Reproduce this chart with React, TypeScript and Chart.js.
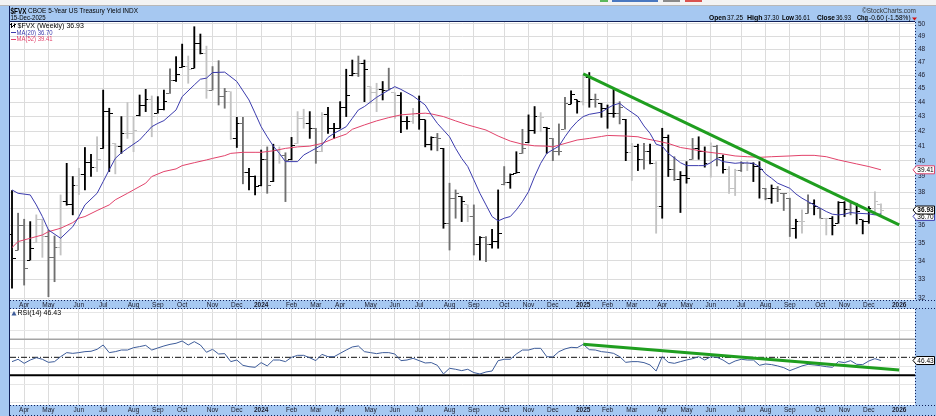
import React, { useEffect, useRef } from "react";
import { Chart, registerables } from "chart.js";
Chart.register(...registerables);

const FONT = '"Liberation Sans", Arial, sans-serif';

// ---- x axis (weekly bars, index 0 = week of 20-Mar-2023, last = week of 15-Dec-2025)
const monthWeeks = [2, 6, 11, 15, 20, 24, 28, 33, 37, 41, 46, 50, 54, 59, 63, 67, 72, 76, 81, 85, 89, 94, 98, 102, 107, 111, 115, 120, 124, 128, 133, 137, 141, 146];
const monthLabels = ["Apr", "May", "Jun", "Jul", "Aug", "Sep", "Oct", "Nov", "Dec", "2024", "Feb", "Mar", "Apr", "May", "Jun", "Jul", "Aug", "Sep", "Oct", "Nov", "Dec", "2025", "Feb", "Mar", "Apr", "May", "Jun", "Jul", "Aug", "Sep", "Oct", "Nov", "Dec", "2026"];
const priceTicks = [32, 33, 34, 35, 36, 37, 38, 39, 40, 41, 42, 43, 44, 45, 46, 47, 48, 49, 50];
const rsiTicks = [0, 10, 20, 30, 40, 50, 60, 70, 80, 90, 100];
const rsiLabeled = [10, 30, 50, 70, 90];

// ---- weekly OHLC
const highs = [38.12, 36.74, 36.38, 36.24, 36.64, 36.38, 35.75, 35.40, 37.85, 39.85, 39.00, 39.53, 40.89, 40.43, 41.61, 44.90, 43.59, 41.16, 43.00, 44.00, 43.00, 44.54, 44.95, 44.47, 44.42, 44.90, 46.48, 47.41, 48.39, 47.46, 49.78, 49.19, 48.23, 46.65, 47.10, 45.02, 44.78, 42.95, 42.95, 39.53, 39.04, 40.72, 40.93, 41.11, 40.93, 40.54, 41.57, 43.35, 43.52, 43.35, 42.19, 43.28, 43.66, 42.53, 44.06, 46.45, 47.15, 47.46, 47.15, 45.15, 45.40, 45.53, 46.53, 44.71, 44.71, 43.00, 43.59, 44.47, 42.77, 41.61, 41.84, 40.83, 38.58, 38.16, 37.75, 37.24, 37.24, 35.37, 35.37, 35.79, 38.16, 39.64, 39.17, 40.61, 42.12, 43.12, 43.71, 43.28, 42.26, 41.50, 42.49, 44.37, 44.85, 44.18, 46.03, 46.20, 44.61, 43.94, 43.82, 45.02, 44.06, 42.81, 41.16, 41.11, 41.16, 41.11, 39.96, 42.19, 41.73, 40.28, 39.32, 39.96, 41.50, 41.61, 40.93, 41.20, 41.04, 40.39, 39.64, 39.47, 39.96, 39.96, 39.89, 39.96, 38.26, 38.47, 38.37, 37.95, 37.65, 36.38, 36.94, 37.85, 37.55, 37.04, 36.44, 36.54, 37.44, 37.44, 37.38, 37.34, 36.34, 37.14, 38.05, 37.30];
const lows = [32.51, 34.60, 32.68, 34.04, 35.02, 34.19, 32.07, 32.86, 34.32, 37.22, 36.64, 37.87, 38.16, 39.00, 39.32, 40.83, 39.32, 39.17, 40.50, 41.50, 40.61, 43.05, 43.35, 41.61, 43.24, 43.47, 44.66, 45.53, 46.60, 45.40, 46.53, 47.62, 44.30, 44.90, 43.82, 43.59, 41.43, 40.89, 38.54, 38.16, 37.85, 38.41, 37.95, 38.68, 39.85, 37.44, 40.07, 41.16, 42.19, 41.50, 39.85, 40.61, 41.84, 41.50, 42.19, 43.00, 45.95, 45.90, 44.06, 43.94, 43.35, 44.18, 44.90, 42.88, 41.89, 42.12, 42.53, 42.12, 40.93, 40.72, 40.67, 35.85, 34.60, 36.44, 36.24, 36.24, 34.32, 34.04, 33.95, 34.70, 34.70, 38.47, 38.26, 39.21, 40.50, 41.20, 41.84, 41.95, 40.50, 40.02, 40.39, 42.12, 43.89, 43.24, 43.82, 43.66, 43.66, 42.95, 42.19, 42.95, 42.49, 40.02, 38.75, 39.38, 39.47, 39.81, 35.56, 36.44, 39.00, 38.75, 36.78, 38.58, 40.11, 40.11, 39.60, 38.96, 39.68, 39.21, 37.95, 37.81, 39.32, 39.38, 38.68, 37.65, 37.55, 37.34, 37.44, 36.90, 35.37, 35.27, 35.56, 36.74, 36.64, 36.44, 35.46, 35.46, 36.14, 36.54, 36.64, 36.10, 35.52, 36.14, 36.78, 36.61];
const opens = [35.50, 34.60, 36.00, 34.04, 35.02, 36.34, 35.37, 34.19, 34.74, 37.44, 37.28, 38.43, 39.11, 39.89, 39.60, 40.83, 43.35, 41.16, 40.93, 41.84, 41.84, 43.05, 43.75, 44.18, 43.24, 43.47, 44.66, 45.60, 46.60, 46.65, 46.53, 48.45, 47.62, 44.90, 46.20, 44.42, 44.78, 41.50, 42.49, 39.26, 39.00, 38.41, 40.07, 38.68, 40.72, 40.39, 40.07, 41.16, 42.84, 42.53, 42.19, 40.61, 43.12, 42.19, 42.19, 43.66, 45.95, 46.15, 46.90, 45.15, 44.71, 44.95, 44.90, 44.71, 44.47, 42.65, 42.65, 43.24, 42.77, 41.11, 41.57, 40.83, 36.14, 37.60, 37.75, 37.24, 36.54, 34.89, 35.33, 34.89, 35.08, 38.47, 38.62, 39.21, 40.50, 41.20, 42.07, 43.00, 42.26, 41.50, 40.61, 42.12, 43.89, 44.18, 44.06, 45.85, 44.18, 43.94, 43.59, 43.19, 43.19, 42.81, 40.54, 40.93, 40.07, 40.61, 39.81, 37.14, 41.57, 39.43, 38.83, 39.04, 40.11, 40.83, 40.61, 39.85, 40.98, 40.24, 39.47, 38.26, 39.38, 39.85, 39.81, 39.64, 38.26, 37.65, 38.26, 37.95, 37.65, 35.85, 36.24, 36.74, 37.34, 37.04, 36.44, 36.44, 36.14, 37.38, 36.94, 37.34, 36.34, 36.24, 37.04, 37.25];
const closes = [34.13, 36.00, 33.58, 34.70, 36.34, 35.37, 34.19, 34.74, 37.44, 37.28, 38.43, 39.11, 39.89, 39.60, 40.07, 43.35, 43.24, 40.93, 41.84, 41.84, 42.07, 43.75, 44.18, 43.00, 43.47, 44.06, 45.60, 46.03, 46.65, 46.40, 48.45, 47.62, 44.90, 46.20, 44.42, 44.78, 41.50, 42.49, 39.26, 39.00, 38.37, 40.07, 38.41, 40.72, 40.39, 40.00, 41.05, 42.84, 42.53, 42.19, 40.61, 43.12, 42.19, 42.19, 43.66, 44.47, 46.15, 46.90, 46.45, 44.71, 44.95, 44.90, 45.02, 44.47, 42.65, 42.65, 43.24, 42.77, 41.11, 41.57, 41.50, 36.14, 37.60, 37.95, 37.44, 36.54, 34.89, 35.33, 34.89, 35.08, 35.56, 38.62, 39.11, 39.26, 40.83, 42.07, 43.00, 42.95, 42.19, 40.61, 40.61, 43.94, 44.54, 44.06, 45.85, 44.18, 44.18, 43.59, 43.19, 43.19, 43.66, 40.54, 40.93, 40.07, 40.61, 39.81, 37.14, 41.57, 39.43, 38.83, 39.04, 38.89, 40.83, 40.61, 39.85, 40.98, 40.24, 39.47, 38.26, 39.38, 39.85, 39.81, 39.64, 39.43, 37.65, 38.26, 38.20, 37.95, 35.85, 36.24, 36.24, 37.34, 37.14, 36.44, 36.44, 36.04, 37.38, 36.94, 37.34, 36.84, 36.24, 37.04, 37.44, 36.93];
const barShade = ("kggkllgglk" + "klkklkklkl" + "lkklkkgkkl" + "kklggglkgk" + "kkgklgkllk" + "glkkkkkgkl" + "lkglkklkkk" + "gkggklgkgk" + "kgkkgkklkg" + "ggkklkgkkk" + "gklkgklkkg" + "kkgkklgkll" + "glkkgkgggk" + "lgkglkkkgk" + "kkll").split("");

// ---- moving averages (week index, value)
const ma20Weeks = [0, 1, 3, 4, 5, 6, 8, 10, 11, 12, 14, 15, 16, 17, 18, 19, 21, 22, 23, 24, 25, 27, 28, 30, 31, 32, 33, 35, 37, 39, 40, 41, 42, 43, 44, 45, 47, 48, 49, 51, 52, 53, 55, 56, 57, 58, 60, 62, 63, 64, 66, 68, 69, 70, 72, 73, 74, 75, 76, 77, 78, 79, 80, 81, 82, 83, 84, 85, 86, 87, 88, 90, 91, 92, 93, 94, 95, 97, 98, 99, 100, 101, 103, 104, 105, 106, 107, 108, 110, 111, 113, 114, 115, 116, 117, 119, 120, 122, 123, 124, 125, 126, 128, 129, 130, 131, 132, 133, 134, 135, 136, 137, 138, 139, 141, 142, 143];
const ma20Vals = [38.16, 37.95, 37.85, 37.24, 36.54, 35.75, 35.27, 35.94, 36.54, 37.24, 37.95, 38.68, 39.43, 40.17, 40.54, 40.83, 41.39, 41.84, 42.30, 42.53, 42.72, 43.47, 44.42, 45.28, 45.70, 45.78, 46.20, 46.23, 45.53, 44.18, 43.24, 42.30, 41.61, 40.98, 40.50, 39.96, 39.96, 40.39, 40.61, 41.05, 41.57, 41.84, 42.30, 42.88, 43.47, 43.71, 44.37, 44.90, 45.15, 44.95, 44.47, 43.82, 43.12, 42.53, 41.61, 40.83, 40.17, 39.64, 38.79, 37.95, 37.24, 36.54, 36.28, 36.44, 36.54, 36.94, 37.44, 38.05, 39.00, 39.85, 40.50, 40.98, 41.61, 42.19, 42.65, 43.00, 43.16, 43.31, 43.59, 43.82, 43.94, 43.59, 43.00, 42.35, 41.84, 41.11, 40.98, 40.50, 39.89, 39.70, 39.70, 39.70, 39.89, 40.17, 39.96, 39.85, 39.89, 39.85, 39.64, 39.17, 38.89, 38.58, 38.26, 37.91, 37.65, 37.44, 37.24, 37.04, 36.84, 36.68, 36.64, 36.68, 36.78, 36.74, 36.70, 36.64, 36.70];
const ma52Weeks = [0, 1, 3, 5, 6, 8, 10, 11, 12, 14, 16, 17, 19, 20, 22, 23, 25, 27, 28, 30, 32, 33, 35, 36, 38, 40, 41, 43, 45, 47, 49, 51, 53, 55, 56, 58, 60, 62, 64, 66, 68, 69, 71, 73, 75, 78, 80, 82, 84, 86, 88, 89, 91, 93, 95, 97, 98, 101, 103, 104, 106, 108, 110, 112, 114, 117, 119, 121, 123, 125, 128, 130, 132, 134, 136, 139, 141, 143];
const ma52Vals = [34.74, 35.08, 35.27, 35.46, 35.65, 35.85, 36.18, 36.44, 36.54, 36.90, 37.24, 37.55, 37.95, 38.16, 38.58, 39.00, 39.32, 39.49, 39.70, 39.89, 40.07, 40.17, 40.35, 40.50, 40.57, 40.57, 40.57, 40.67, 40.83, 40.93, 40.98, 41.16, 41.50, 41.79, 42.12, 42.42, 42.70, 42.93, 43.12, 43.19, 43.24, 43.19, 43.00, 42.70, 42.42, 42.07, 41.66, 41.32, 41.11, 41.00, 40.98, 40.93, 41.16, 41.39, 41.50, 41.63, 41.70, 41.66, 41.61, 41.50, 41.34, 41.16, 40.89, 40.76, 40.61, 40.46, 40.33, 40.28, 40.24, 40.28, 40.33, 40.37, 40.37, 40.28, 40.07, 39.81, 39.64, 39.43];

// ---- trendlines (drawn by the analyst)
const priceTrendWeeks = [94, 146];
const priceTrendVals = [46.1, 36.05];
const rsiTrendWeeks = [94, 146];
const rsiTrendVals = [64.4, 35.9];

// ---- RSI(14)
const rsiVals = [45.2, 47.8, 43.3, 47.0, 49.6, 47.8, 44.4, 45.2, 50.7, 55.2, 54.4, 55.2, 56.3, 56.7, 58.9, 63.7, 55.2, 56.3, 58.1, 58.1, 60.7, 61.9, 63.3, 58.1, 60.4, 62.6, 64.4, 65.6, 68.1, 63.7, 67.4, 63.7, 55.6, 58.9, 53.7, 54.1, 45.2, 47.0, 41.1, 39.6, 38.9, 44.1, 40.4, 47.0, 47.0, 45.2, 50.0, 52.2, 52.2, 49.5, 46.3, 53.3, 50.7, 50.7, 54.4, 58.1, 61.5, 62.6, 56.3, 55.2, 54.1, 55.2, 55.2, 53.7, 46.3, 47.0, 48.9, 46.3, 43.7, 44.1, 41.1, 31.5, 37.8, 36.7, 35.2, 36.7, 33.0, 31.5, 33.7, 34.8, 46.3, 47.8, 47.8, 53.7, 58.1, 58.1, 60.0, 60.0, 50.7, 50.4, 56.3, 59.3, 61.1, 60.7, 64.4, 58.5, 58.1, 56.3, 55.6, 54.4, 50.7, 44.4, 45.2, 45.2, 44.1, 41.5, 34.8, 50.7, 44.4, 43.3, 45.2, 47.0, 48.5, 50.7, 47.0, 50.7, 50.0, 47.0, 42.6, 45.9, 47.8, 47.0, 47.0, 41.1, 42.6, 41.9, 40.4, 38.5, 35.2, 37.8, 40.4, 42.2, 41.5, 40.7, 39.6, 38.9, 45.2, 44.1, 46.3, 42.2, 41.9, 45.9, 48.5, 46.43];
const rsiLevels = [70, 50, 30];

const XMIN = -0.33;
const XMAX = 148.6;
const BLUE_BG = "#a6c8f1";
const NAVY = "#10205a";
const MA20_COLOR = "#3c3cae";
const MA52_COLOR = "#e2436b";
const TREND_COLOR = "#1f9e1f";
const RSI_COLOR = "#3d5c9a";
const GRID = "#dcdcdc";
const shadeColor: Record<string, string> = { k: "#000000", g: "#707070", l: "#c3c3c3" };

function txt(ctx: CanvasRenderingContext2D, s: string, x: number, y: number, size: number, color: string, opts: { bold?: boolean; align?: CanvasTextAlign; maxW?: number } = {}) {
  ctx.font = `${opts.bold ? "bold " : ""}${size}px ${FONT}`;
  ctx.fillStyle = color;
  ctx.textAlign = opts.align || "left";
  ctx.textBaseline = "middle";
  if (opts.maxW) ctx.fillText(s, x, y, opts.maxW);
  else ctx.fillText(s, x, y);
}

function hline(ctx: CanvasRenderingContext2D, x1: number, x2: number, y: number) {
  ctx.beginPath(); ctx.moveTo(x1, y); ctx.lineTo(x2, y); ctx.stroke();
}
function vline(ctx: CanvasRenderingContext2D, x: number, y1: number, y2: number) {
  ctx.beginPath(); ctx.moveTo(x, y1); ctx.lineTo(x, y2); ctx.stroke();
}

function valueBox(ctx: CanvasRenderingContext2D, y: number, color: string, label: string, bold = false) {
  ctx.fillStyle = "#ffffff";
  ctx.beginPath();
  ctx.moveTo(913, y);
  ctx.lineTo(916.5, y - 4);
  ctx.lineTo(934.5, y - 4);
  ctx.lineTo(934.5, y + 4);
  ctx.lineTo(916.5, y + 4);
  ctx.closePath();
  ctx.fill();
  ctx.strokeStyle = color;
  ctx.lineWidth = 1;
  ctx.stroke();
  txt(ctx, label, 925.5, y + 0.5, 6.5, "#000", { align: "center", bold, maxW: 17 });
}

function makeTick(color: string, left: boolean) {
  const c = document.createElement("canvas");
  c.width = 7;
  c.height = 1;
  const g = c.getContext("2d")!;
  g.fillStyle = color;
  g.fillRect(left ? 0 : 4, 0, 3, 1);
  return c;
}

const xScaleBase = (h: number, pad: number) => ({
  type: "linear" as const,
  position: "bottom" as const,
  min: XMIN,
  max: XMAX,
  offset: false,
  afterBuildTicks: (s: any) => { s.ticks = monthWeeks.map((v) => ({ value: v })); },
  afterFit: (s: any) => { s.height = h; s.paddingLeft = 0; s.paddingRight = 0; },
  ticks: {
    autoSkip: false,
    maxRotation: 0,
    padding: pad,
    color: "#1a1a2a",
    font: (c: any) => ({ family: FONT, size: 6.5, weight: /^\d{4}$/.test(monthLabels[c.index] || "") ? "bold" : "normal" }),
    callback: (_v: any, i: number) => monthLabels[i],
  },
  grid: { color: GRID, drawTicks: false, offset: false },
  border: { display: false },
});

export default function App() {
  const priceRef = useRef<HTMLCanvasElement>(null);
  const rsiRef = useRef<HTMLCanvasElement>(null);

  useEffect(() => {
    const imgs: Record<string, { o: HTMLCanvasElement; c: HTMLCanvasElement }> = {};
    for (const k of Object.keys(shadeColor)) imgs[k] = { o: makeTick(shadeColor[k], true), c: makeTick(shadeColor[k], false) };

    const bgPlugin = {
      id: "bg",
      beforeDraw(chart: any) {
        const { ctx, chartArea: a } = chart;
        ctx.save();
        ctx.fillStyle = BLUE_BG;
        ctx.fillRect(0, 0, chart.width, chart.height);
        ctx.fillStyle = "#ffffff";
        ctx.fillRect(a.left, a.top, a.right - a.left, a.bottom - a.top);
        ctx.restore();
      },
      beforeDatasetsDraw(chart: any) {
        chart.ctx.imageSmoothingEnabled = false;
      },
    };

    const priceDeco = {
      id: "priceDeco",
      afterDraw(chart: any) {
        const ctx: CanvasRenderingContext2D = chart.ctx;
        const a = chart.chartArea;
        const ys = chart.scales.y;
        ctx.save();
        // top toolbar remnant
        ctx.fillStyle = "#f3f3f3";
        ctx.fillRect(0, 0, chart.width, 5);
        ctx.fillStyle = "#b8b8b8";
        ctx.fillRect(0, 5, chart.width, 1);
        ctx.fillStyle = "#5cb85c"; ctx.fillRect(600, 0, 8, 2);
        ctx.fillStyle = "#4a78c0"; ctx.fillRect(612, 0, 46, 2);
        ctx.fillStyle = "#8a8a8a"; ctx.fillRect(663, 0, 17, 2);
        ctx.fillStyle = "#d9534f"; ctx.fillRect(685, 0, 17, 2);
        // borders
        ctx.strokeStyle = NAVY;
        ctx.lineWidth = 1;
        hline(ctx, 9, a.right, a.top - 0.5);
        vline(ctx, a.left - 0.5, 6, chart.height);
        ctx.setLineDash([1, 2]);
        vline(ctx, a.right + 0.5, a.top, a.bottom);
        hline(ctx, a.left, chart.width, a.bottom + 0.5);
        hline(ctx, a.left, chart.width, chart.height - 0.5);
        ctx.setLineDash([]);
        // header
        txt(ctx, "$FVX", 10.5, 11.5, 8.5, "#000", { bold: true, maxW: 16 });
        txt(ctx, "CBOE 5-Year US Treasury Yield INDX", 28, 11.5, 7, "#000", { maxW: 110 });
        txt(ctx, "15-Dec-2025", 10.5, 18.5, 6.5, "#000", { maxW: 35 });
        txt(ctx, "\u00A9StockCharts.com", 916, 11, 6.5, "#333", { align: "right", maxW: 54 });
        const hy = 18.5;
        txt(ctx, "Open", 709, hy, 7, "#000", { bold: true, maxW: 17 });
        txt(ctx, "37.25", 727, hy, 6.5, "#000", { maxW: 16 });
        txt(ctx, "High", 747, hy, 7, "#000", { bold: true, maxW: 16 });
        txt(ctx, "37.30", 764, hy, 6.5, "#000", { maxW: 15 });
        txt(ctx, "Low", 782, hy, 7, "#000", { bold: true, maxW: 12 });
        txt(ctx, "36.61", 795, hy, 6.5, "#000", { maxW: 15 });
        txt(ctx, "Close", 817, hy, 7, "#000", { bold: true, maxW: 18 });
        txt(ctx, "36.93", 836, hy, 6.5, "#000", { maxW: 15 });
        txt(ctx, "Chg", 857, hy, 7, "#000", { bold: true, maxW: 11 });
        txt(ctx, "-0.60 (-1.58%)", 869, hy, 6.5, "#000", { maxW: 42 });
        ctx.fillStyle = "#d01010";
        ctx.beginPath(); ctx.moveTo(912, 17.5); ctx.lineTo(917, 17.5); ctx.lineTo(914.5, 20.5); ctx.closePath(); ctx.fill();
        // legend
        ctx.fillStyle = "#000";
        ctx.fillRect(11, 23, 1, 5); ctx.fillRect(10, 24, 1, 1); ctx.fillRect(12, 26, 1, 1);
        ctx.fillRect(14, 23.5, 1, 4); ctx.fillRect(13, 25, 1, 1); ctx.fillRect(15, 24, 1, 1);
        txt(ctx, "$FVX (Weekly) 36.93", 17.5, 25.8, 7, "#000", { maxW: 70 });
        ctx.fillStyle = MA20_COLOR; ctx.fillRect(11, 32, 5, 1);
        txt(ctx, "MA(20) 36.70", 16.5, 32.8, 7, MA20_COLOR, { maxW: 36 });
        ctx.fillStyle = MA52_COLOR; ctx.fillRect(11, 39, 5, 1);
        txt(ctx, "MA(52) 39.41", 16.5, 39.5, 7, MA52_COLOR, { maxW: 36 });
        // right axis value boxes
        valueBox(ctx, ys.getPixelForValue(ma20Vals[ma20Vals.length - 1]) + 2.5, MA20_COLOR, "36.70");
        valueBox(ctx, ys.getPixelForValue(ma52Vals[ma52Vals.length - 1]), MA52_COLOR, "39.41");
        valueBox(ctx, ys.getPixelForValue(closes[closes.length - 1]), "#000", "36.93", true);
        ctx.restore();
      },
    };

    const rsiDeco = {
      id: "rsiDeco",
      afterDraw(chart: any) {
        const ctx: CanvasRenderingContext2D = chart.ctx;
        const a = chart.chartArea;
        const ys = chart.scales.y;
        ctx.save();
        ctx.strokeStyle = NAVY;
        ctx.lineWidth = 1;
        vline(ctx, a.left - 0.5, 0, chart.height);
        ctx.setLineDash([1, 2]);
        vline(ctx, a.right + 0.5, a.top, a.bottom);
        hline(ctx, a.left, chart.width, a.bottom + 0.5);
        hline(ctx, a.left, chart.width, chart.height - 0.5);
        ctx.setLineDash([]);
        // legend
        ctx.fillStyle = RSI_COLOR;
        ctx.beginPath(); ctx.moveTo(11.5, 6.5); ctx.lineTo(14, 2); ctx.lineTo(16.5, 6.5); ctx.closePath(); ctx.fill();
        txt(ctx, "RSI(14) 46.43", 17.5, 4.3, 7, "#000", { maxW: 46 });
        valueBox(ctx, ys.getPixelForValue(rsiVals[rsiVals.length - 1]), "#000", "46.43");
        ctx.restore();
      },
    };

    const priceChart = new Chart(priceRef.current!, {
      type: "bar",
      data: {
        datasets: [
          {
            type: "bar",
            data: highs.map((h, i) => ({ x: i, y: [lows[i], h] })) as any,
            backgroundColor: barShade.map((s) => shadeColor[s]),
            barThickness: 1.2,
            order: 5,
          },
          {
            type: "scatter",
            data: opens.map((v, i) => ({ x: i, y: v })),
            pointStyle: (c: any) => imgs[barShade[c.dataIndex] || "k"].o,
            pointRadius: 1,
            order: 4,
          },
          {
            type: "scatter",
            data: closes.map((v, i) => ({ x: i, y: v })),
            pointStyle: (c: any) => imgs[barShade[c.dataIndex] || "k"].c,
            pointRadius: 1,
            order: 4,
          },
          {
            type: "line",
            data: ma52Weeks.map((w, i) => ({ x: w, y: ma52Vals[i] })),
            borderColor: MA52_COLOR,
            borderWidth: 1,
            pointRadius: 0,
            tension: 0,
            order: 3,
          },
          {
            type: "line",
            data: ma20Weeks.map((w, i) => ({ x: w, y: ma20Vals[i] })),
            borderColor: MA20_COLOR,
            borderWidth: 1,
            pointRadius: 0,
            tension: 0,
            order: 2,
          },
          {
            type: "line",
            data: priceTrendWeeks.map((w, i) => ({ x: w, y: priceTrendVals[i] })),
            borderColor: TREND_COLOR,
            borderWidth: 3,
            pointRadius: 0,
            order: 1,
          },
        ] as any,
      },
      options: {
        animation: false,
        responsive: false,
        maintainAspectRatio: false,
        events: [],
        layout: { padding: { left: 10, top: 22, right: 0, bottom: 0 } },
        plugins: { legend: { display: false }, tooltip: { enabled: false } },
        scales: {
          x: xScaleBase(9, 1) as any,
          y: {
            type: "logarithmic",
            position: "right",
            min: 31.896,
            max: 50.163,
            afterBuildTicks: (s: any) => { s.ticks = priceTicks.map((v) => ({ value: v })); },
            afterFit: (s: any) => { s.width = 21; s.paddingTop = 0; s.paddingBottom = 0; },
            ticks: {
              padding: 3,
              color: "#1a1a2a",
              font: { family: FONT, size: 6.5 },
              callback: (v: any) => String(v),
            },
            grid: { color: GRID, drawTicks: false },
            border: { display: false },
          } as any,
        },
      },
      plugins: [bgPlugin, priceDeco],
    });

    const rsiChart = new Chart(rsiRef.current!, {
      type: "line",
      data: {
        datasets: [
          {
            data: rsiVals.map((v, i) => ({ x: i, y: v })),
            borderColor: RSI_COLOR,
            borderWidth: 1,
            pointRadius: 0,
            tension: 0,
            order: 2,
          },
          {
            data: rsiTrendWeeks.map((w, i) => ({ x: w, y: rsiTrendVals[i] })),
            borderColor: TREND_COLOR,
            borderWidth: 3,
            pointRadius: 0,
            order: 1,
          },
          {
            data: [{ x: XMIN, y: rsiLevels[0] }, { x: XMAX, y: rsiLevels[0] }],
            borderColor: "#a5a5a5",
            borderWidth: 1.5,
            pointRadius: 0,
            order: 5,
          },
          {
            data: [{ x: XMIN, y: rsiLevels[1] }, { x: XMAX, y: rsiLevels[1] }],
            borderColor: "#111111",
            borderWidth: 1,
            borderDash: [6, 2, 1, 2],
            pointRadius: 0,
            order: 5,
          },
          {
            data: [{ x: XMIN, y: rsiLevels[2] }, { x: XMAX, y: rsiLevels[2] }],
            borderColor: "#000000",
            borderWidth: 2,
            pointRadius: 0,
            order: 5,
          },
        ] as any,
      },
      options: {
        animation: false,
        responsive: false,
        maintainAspectRatio: false,
        events: [],
        layout: { padding: { left: 10, top: 0, right: 0, bottom: 0 } },
        plugins: { legend: { display: false }, tooltip: { enabled: false } },
        scales: {
          x: xScaleBase(11, 1.5) as any,
          y: {
            type: "linear",
            position: "right",
            min: -3,
            max: 103.7,
            afterBuildTicks: (s: any) => { s.ticks = rsiTicks.map((v) => ({ value: v })); },
            afterFit: (s: any) => { s.width = 21; s.paddingTop = 0; s.paddingBottom = 0; },
            ticks: {
              padding: 3,
              color: "#1a1a2a",
              font: { family: FONT, size: 6.5 },
              callback: (v: any) => (rsiLabeled.includes(Number(v)) ? String(v) : ""),
            },
            grid: { color: "#e6e6e6", drawTicks: false },
            border: { display: false },
          } as any,
        },
      },
      plugins: [bgPlugin, rsiDeco],
    });

    return () => {
      priceChart.destroy();
      rsiChart.destroy();
    };
  }, []);

  return (
    <div style={{ position: "absolute", left: 0, top: 0, width: 936, height: 416, background: BLUE_BG, overflow: "hidden" }}>
      <canvas ref={priceRef} width={936} height={309} style={{ position: "absolute", left: 0, top: 0, width: 936, height: 309 }} />
      <canvas ref={rsiRef} width={936} height={107} style={{ position: "absolute", left: 0, top: 309, width: 936, height: 107 }} />
    </div>
  );
}
